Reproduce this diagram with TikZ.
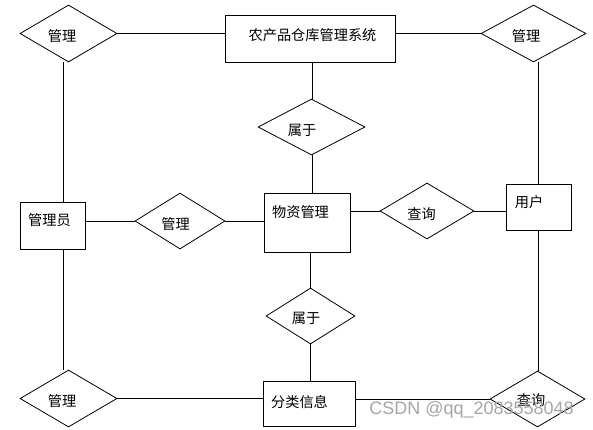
\documentclass[tikz,border=0pt]{standalone}
\usepackage{fontspec}
\newfontfamily\cjk{Noto Sans CJK SC}
\newfontfamily\wmfont{Liberation Sans}
\usetikzlibrary{shapes.geometric,calc}
\begin{document}
\begin{tikzpicture}[x=1pt,y=-1pt,
  conn/.style={draw=black,line width=0.8pt},
  entity/.style={draw=black,line width=0.8pt,rectangle,inner sep=0pt},
  rel/.style={draw=black,line width=0.8pt,diamond,inner sep=0pt,shape aspect=1},
  lbl/.style={inner sep=0pt,font=\cjk\fontsize{14.2}{16}\selectfont}]
\useasboundingbox (0,0) rectangle (593,429);
% entities
\node[entity,minimum width=170pt,minimum height=47pt] (sys) at (310,38.5) {};
\node[entity,minimum width=86pt,minimum height=59pt] (wz) at (307,222.5) {};
\node[entity,minimum width=65pt,minimum height=46pt] (yh) at (538.5,207) {};
\node[entity,minimum width=65pt,minimum height=47pt] (gly) at (52.5,225.5) {};
\node[entity,minimum width=92pt,minimum height=45pt] (fl) at (309,403.5) {};
% relations
\node[rel,minimum width=97pt,minimum height=57pt] (d1) at (68.5,33.5) {};
\node[rel,minimum width=105pt,minimum height=57pt] (d2) at (533.5,33.5) {};
\node[rel,minimum width=107pt,minimum height=56pt] (d3) at (311.5,127) {};
\node[rel,minimum width=94pt,minimum height=56pt] (d4) at (427,211) {};
\node[rel,minimum width=90pt,minimum height=56pt] (d5) at (180,221) {};
\node[rel,minimum width=89pt,minimum height=56pt] (d6) at (310.5,316) {};
\node[rel,minimum width=97pt,minimum height=57pt] (d7) at (68.5,398.5) {};
\node[rel,minimum width=95pt,minimum height=56pt] (d8) at (537.5,399) {};
% labels
\node[lbl] (tsys) at (312.5,35) {农产品仓库管理系统};
\node[lbl] (twz) at (300.5,212) {物资管理};
\node[lbl] (tyh) at (529,202) {用户};
\node[lbl] (tgly) at (49.5,220) {管理员};
\node[lbl] (tfl) at (299.5,402) {分类信息};
\node[lbl] (td1) at (62,36) {管理};
\node[lbl] (td2) at (526,36) {管理};
\node[lbl] (td3) at (302,130) {属于};
\node[lbl] (td4) at (421.5,214) {查询};
\node[lbl] (td5) at (175.5,224) {管理};
\node[lbl] (td6) at (306,318) {属于};
\node[lbl] (td7) at (62,401) {管理};
\node[lbl] (td8) at (531,400) {查询};
% connectors
\draw[conn] (d1.east) -- (d1.east -| sys.west);
\draw[conn] (sys.east |- d2.west) -- (d2.west);
\draw[conn] ([xshift=2pt]sys.south) -- ([xshift=2pt]sys.south |- d3.north);
\draw[conn] ([xshift=0.5pt]d3.south) -- ([xshift=0.5pt]d3.south |- wz.north);
\draw[conn] ([xshift=10.5pt]gly.north) -- ([xshift=10.5pt]gly.north |- d1.south);
\draw[conn] (gly.east |- d5.west) -- (d5.west);
\draw[conn] (d5.east) -- (d5.east -| wz.west);
\draw[conn] (wz.east |- d4.west) -- (d4.west);
\draw[conn] (d4.east) -- (d4.east -| yh.west);
\draw[conn] (yh.north) -- (yh.north |- d2.south);
\draw[conn] (d6.north |- wz.south) -- (d6.north);
\draw[conn] (d6.south) -- (d6.south |- fl.north);
\draw[conn] ([xshift=11pt]gly.south) -- ([xshift=11pt]gly.south |- d7.north);
\draw[conn] (d7.east) -- (d7.east -| fl.west);
\draw[conn] (fl.east |- d8.west) -- (d8.west);
\draw[conn] (yh.south) -- (yh.south |- d8.north);
% watermark
\node[inner sep=0pt,text=black!35,font=\wmfont\fontsize{18}{20}\selectfont] (wm) at (471.5,410) {CSDN @qq\_2083558048};
\end{tikzpicture}
\end{document}
